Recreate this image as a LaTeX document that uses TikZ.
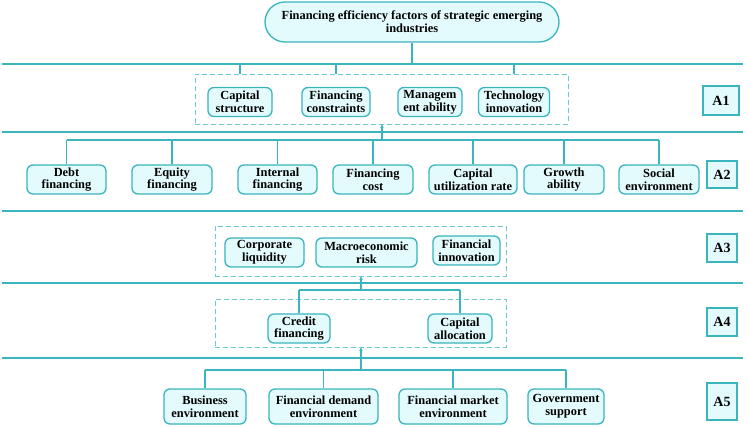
\documentclass[tikz,border=0pt]{standalone}
\usepackage{fontspec}
\setmainfont{Liberation Serif}
\usetikzlibrary{arrows.meta}
\definecolor{tline}{HTML}{3AB4BD}
\definecolor{tfill}{HTML}{E3FBFD}
\definecolor{tdash}{HTML}{6CCAD2}
\begin{document}
\begin{tikzpicture}[x=1pt,y=-1pt,
  fbox/.style={draw=tline, fill=tfill, rounded corners=6pt, line width=1.3pt, align=center,
    font=\bfseries\fontsize{12.4}{12.8}\selectfont, inner sep=0pt, minimum height=29pt},
  lbox/.style={draw=tline, fill=tfill, line width=1.3pt, align=center,
    font=\bfseries\fontsize{14}{15}\selectfont, inner sep=0pt, minimum width=30pt},
  dbox/.style={draw=tdash, dash pattern=on 5pt off 3pt, line width=0.9pt, inner sep=0pt},
  hline/.style={draw=tline, line width=1.4pt},
  conn/.style={draw=tline, line width=1.4pt},
  uparr/.style={draw=tline, line width=1.4pt, -{Stealth[length=3.5pt,width=3.5pt]}}
]
\useasboundingbox (0,0) rectangle (749,427);

% horizontal separators
\foreach \n/\yy in {1/64,2/132,3/211,4/283,5/358}{
  \coordinate (l\n a) at (2,\yy);
  \coordinate (l\n b) at (743,\yy);
  \draw[hline] (l\n a) -- (l\n b);
}

% title
\node[fbox, rounded corners=20pt, minimum width=294pt, minimum height=40pt, anchor=center] (title) at (412,22)
  {Financing efficiency factors of strategic emerging\\industries};
\draw[conn] (title.south) -- (title.south |- l1a);

% A1
\node[dbox, minimum width=373pt, minimum height=50pt] (a1box) at (381.5,99) {};
\node[fbox, minimum width=64pt] (cap) at (240,102) {Capital\\structure};
\node[fbox, minimum width=68pt] (fincon) at (336,102) {Financing\\constraints};
\node[fbox, minimum width=64pt] (mgmt) at (430,102) {Managem\\ent ability};
\node[fbox, minimum width=71pt] (tech) at (514,102) {Technology\\innovation};
\node[lbox, minimum width=36pt, minimum height=29pt] (A1) at (721,100.5) {A1};
\foreach \n in {cap,fincon,tech}{
  \draw[conn] (\n.north |- l1a) -- (\n.north |- a1box.north);
}

% A2
\coordinate (b2) at (0,140);
\node[fbox, minimum width=79pt] (debt) at (66.5,179.5) {Debt\\financing};
\node[fbox, minimum width=80pt] (equity) at (172,179.5) {Equity\\financing};
\node[fbox, minimum width=79pt] (internal) at (277.5,179.5) {Internal\\financing};
\node[fbox, minimum width=80pt] (fcost) at (373,179.5) {Financing\\cost};
\node[fbox, minimum width=88pt] (caputil) at (473,179.5) {Capital\\utilization rate};
\node[fbox, minimum width=80pt] (growth) at (564,179.5) {Growth\\ability};
\node[fbox, minimum width=80pt] (social) at (659,179.5) {Social\\environment};
\node[lbox, minimum height=27pt] (A2) at (722,174.5) {A2};
\draw[conn] (debt.north |- b2) -- (social.north |- b2);
\foreach \n in {debt,equity,internal,fcost,caputil,growth,social}{
  \draw[conn] (\n.north |- b2) -- (\n.north);
}
\coordinate (ar1) at (382,140);
\draw[uparr] (ar1) -- (ar1 |- a1box.south);

% A3
\node[dbox, minimum width=291pt, minimum height=50pt] (a3box) at (360.5,251) {};
\node[fbox, minimum width=79pt] (corp) at (264.5,252.5) {Corporate\\liquidity};
\node[fbox, minimum width=101pt] (macro) at (366.5,252.5) {Macroeconomic\\risk};
\node[fbox, minimum width=67pt] (fininn) at (466.5,250.5) {Financial\\innovation};
\node[lbox, minimum height=28pt] (A3) at (722,248) {A3};

% A4
\node[dbox, minimum width=291pt, minimum height=48pt] (a4box) at (360.5,323) {};
\node[fbox, minimum width=62pt] (credit) at (299,328.5) {Credit\\financing};
\node[fbox, minimum width=64pt] (capalloc) at (460,328.5) {Capital\\allocation};
\node[lbox, minimum height=28pt] (A4) at (722,322) {A4};
\coordinate (b4) at (361,290);
\draw[conn] (credit.north |- b4) -- (capalloc.north |- b4);
\draw[conn] (credit.north |- b4) -- (credit.north);
\draw[conn] (capalloc.north |- b4) -- (capalloc.north);
\draw[uparr] (b4) -- (b4 |- a3box.south);

% A5
\node[fbox, minimum width=82pt, minimum height=35pt] (business) at (205,406.5) {Business\\environment};
\node[fbox, minimum width=109pt, minimum height=35pt] (fdemand) at (323.5,406.5) {Financial demand\\environment};
\node[fbox, minimum width=108pt, minimum height=35pt] (fmarket) at (453,406.5) {Financial market\\environment};
\node[fbox, minimum width=76pt, minimum height=35pt] (gov) at (566,406.5) {Government\\support};
\node[lbox, minimum height=37pt] (A5) at (722,401.5) {A5};
\coordinate (b5) at (361,370);
\draw[conn] (business.north |- b5) -- (gov.north |- b5);
\foreach \n in {business,fdemand,fmarket,gov}{
  \draw[conn] (\n.north |- b5) -- (\n.north);
}
\draw[uparr] (b5) -- (b5 |- a4box.south);
\end{tikzpicture}
\end{document}
